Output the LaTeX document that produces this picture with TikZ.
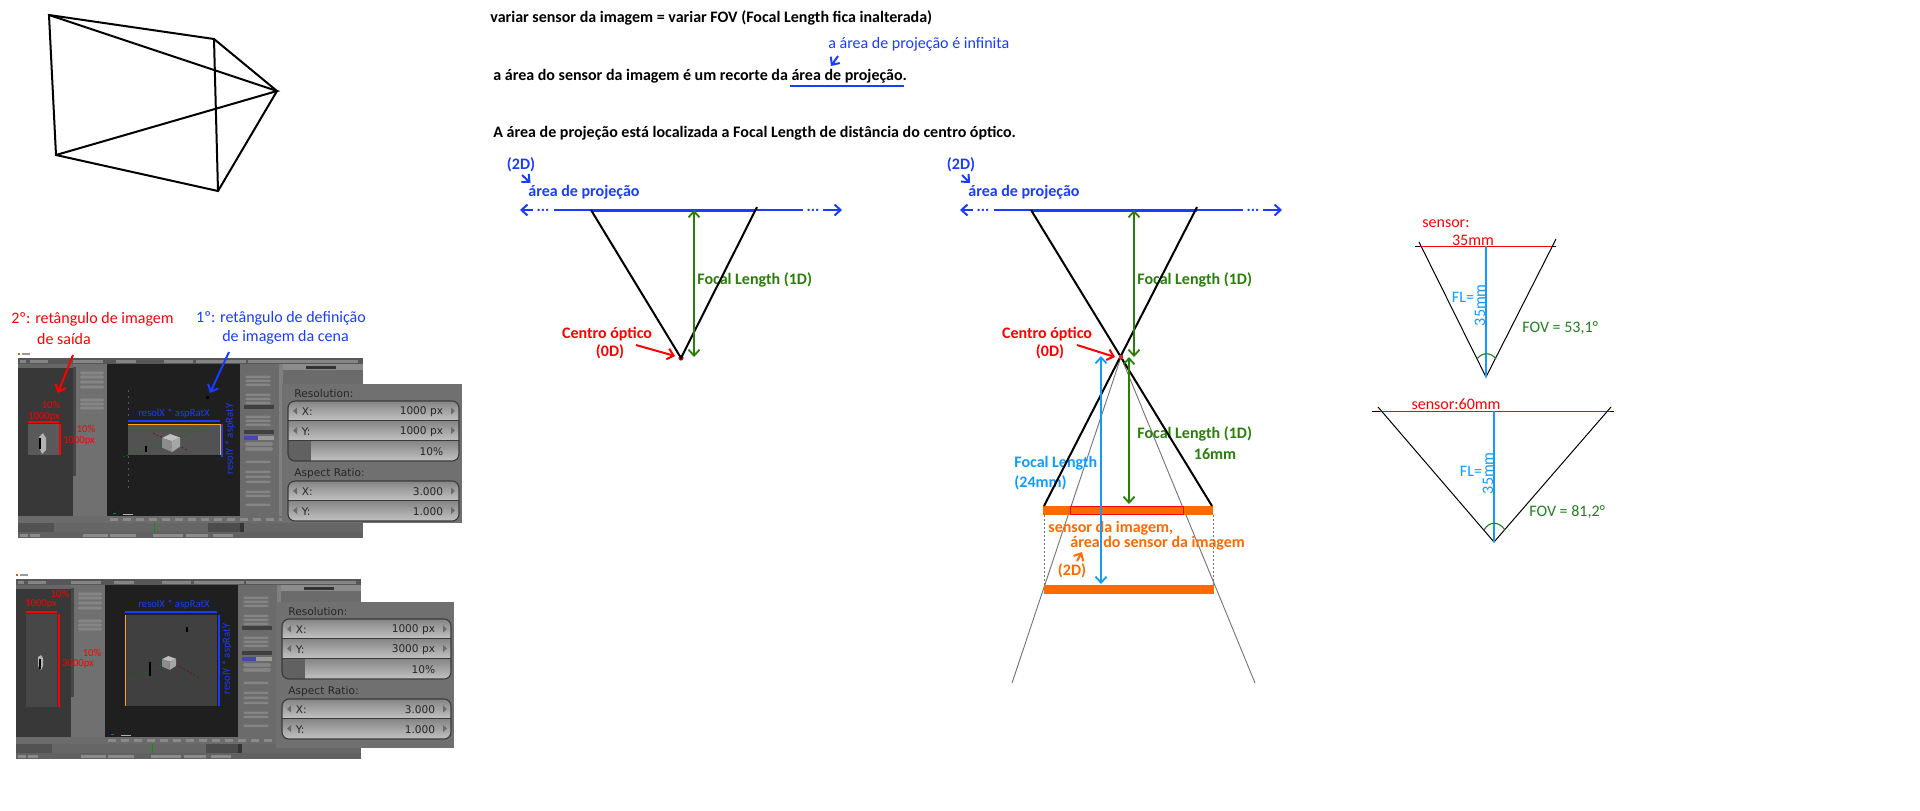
\documentclass[tikz,border=0pt]{standalone}
\usepackage{fontspec}
\setmainfont{Carlito}
\newfontfamily\uifont{DejaVu Sans}
\usetikzlibrary{arrows.meta}
\definecolor{pblue}{HTML}{1A3CFF}
\definecolor{lblue}{HTML}{0F9BFF}
\definecolor{pgreen}{HTML}{2A7F0A}
\definecolor{fgreen}{HTML}{1F7F1F}
\definecolor{porange}{HTML}{FF6A00}
\definecolor{uiedge}{HTML}{3A3A3A}
\definecolor{uipanelbg}{HTML}{707070}
\tikzset{
  lbl/.style={inner sep=0pt,yshift=-0.6pt,font=\fontsize{8}{9.6}\selectfont},
  blbl/.style={inner sep=0pt,yshift=-0.6pt,font=\fontsize{8}{9.6}\selectfont\bfseries},
  slbl/.style={inner sep=0pt,font=\fontsize{5.3}{6.4}\selectfont},
  uilbl/.style={inner sep=0pt,yshift=-0.4pt,text=black!85,font=\fontsize{5.3}{6.2}\uifont},
  arr/.style={-{Straight Barb[length=3pt,width=5.5pt]},line width=1pt},
  darr/.style={{Straight Barb[length=3pt,width=5.5pt]}-{Straight Barb[length=3pt,width=5.5pt]},line width=0.9pt},
  heavy/.style={line width=1pt,black},
  fine/.style={line width=0.5pt,black},
  uibtn/.style={fill=#1,draw=black!60,line width=0.15pt,rounded corners=0.6pt},
  uibtn/.default={black!48}
}
\newcommand{\blenderui}{%
  \fill[black!58] (0,0) rectangle (345,180);
  \fill[black!66] (0,0) rectangle (345,6);
  \fill[orange!80!black] (0,-5) rectangle (2,-3);
  \fill[black!40] (4,-5) rectangle (12,-3);
  \foreach \a/\b in {2/8,12/30,55/85,98/118,146/175,178/228,230/340}{\fill[black!48] (\a,1.5) rectangle (\b,4.5);}
  \fill[black!78] (0,6) rectangle (55,158);
  \fill[black!60] (0,6) rectangle (55,9.5);
  \fill[black!56] (55,6) rectangle (89,158);
  \fill[black!72] (55,9) rectangle (58,118);
  \foreach \y in {15,19,24,29,42,46,50}{\node[uibtn,minimum width=12.5pt,minimum height=1.8pt,inner sep=0pt,anchor=center] at (74,\y) {};}
  \fill[black!88] (89,6) rectangle (222,158);
  \foreach \y in {19,23,27,37,41,45,59,63,67,104,114,119,124,134,138,147}{\node[uibtn,minimum width=13pt,minimum height=1.6pt,inner sep=0pt] at (240,\y) {};}
  \fill[black!75] (226,47) rectangle (256,51);
  \fill[black!75] (226,72) rectangle (256,76);
  \fill[blue!45!gray] (226,78) rectangle (240,82);
  \fill[black!40] (240,78) rectangle (256,82);
  \node[uibtn,minimum width=14pt,minimum height=2pt,inner sep=0pt] at (241,86) {};
  \node[uibtn,minimum width=14pt,minimum height=2pt,inner sep=0pt] at (241,91) {};
  \fill[black!50] (261,6) rectangle (265,158);
  \fill[black!45] (265,6) rectangle (345,12);
  \fill[black!80] (288,8) rectangle (318,11);
  \fill[black!58] (89,158) rectangle (265,165);
  \foreach \a/\b in {0,1,...,13}{\fill[black!46] (92+13*\a,160) rectangle (100+13*\a,163);}
  \fill[black!60] (0,165) rectangle (345,174);
  \fill[black!68] (0,165) rectangle (36,174);
  \fill[black!70] (190,165) rectangle (222,174);
  \fill[black!80] (222,165) rectangle (226,174);
  \fill[green!60!black] (136,165) rectangle (137,174);
  \fill[black!62] (0,174) rectangle (345,180);
  \foreach \a/\b in {2/10,12/22,65/90,92/118,135/165,168/190,195/215}{\fill[black!45] (\a,175.5) rectangle (\b,178.5);}
  \fill[blue!70!black] (94,153) rectangle (95,155);
  \fill[green!60!black] (95,155) rectangle (98,156);
  \fill[white!70!black] (105,156) rectangle (115,157);
}
\newcommand{\uirow}[2]{\shade[top color=black!48,bottom color=black!24] (0,#1) rectangle (2000,#2);}
\newcommand{\uipanel}[8]{%
  \fill[uipanelbg] (#1,#2) rectangle (#3,#4);
  \node[uilbl,anchor=west] at (#1+12,#2+8.5) {Resolution:};
  \node[uilbl,anchor=west] at (#1+12,#2+88.5) {Aspect Ratio:};
  \begin{scope}
    \clip[rounded corners=3.5pt] (#1+6,#2+17) rectangle (#3-3,#2+77);
    \uirow{#2+17}{#2+36.5}
    \uirow{#2+36.5}{#2+56.5}
    \uirow{#2+56.5}{#2+77}
    \fill[black!62] (#1+6,#2+56.5) rectangle (#1+29,#2+77);
  \end{scope}
  \draw[uiedge,line width=0.55pt,rounded corners=3.5pt] (#1+6,#2+17) rectangle (#3-3,#2+77);
  \draw[uiedge,line width=0.55pt] (#1+6,#2+36.5) -- (#3-3,#2+36.5);
  \draw[uiedge,line width=0.55pt] (#1+6,#2+56.5) -- (#3-3,#2+56.5);
  \begin{scope}
    \clip[rounded corners=3.5pt] (#1+6,#2+97) rectangle (#3-3,#2+137);
    \uirow{#2+97}{#2+116.5}
    \uirow{#2+116.5}{#2+137}
  \end{scope}
  \draw[uiedge,line width=0.55pt,rounded corners=3.5pt] (#1+6,#2+97) rectangle (#3-3,#2+137);
  \draw[uiedge,line width=0.55pt] (#1+6,#2+116.5) -- (#3-3,#2+116.5);
  \node[uilbl,anchor=west] at (#1+19.5,#2+27) {X:};
  \node[uilbl,anchor=west] at (#1+19.5,#2+46.5) {Y:};
  \node[uilbl,anchor=west] at (#1+19.5,#2+107) {X:};
  \node[uilbl,anchor=west] at (#1+19.5,#2+126.5) {Y:};
  \node[uilbl,anchor=east] at (#3-18.5,#2+27) {#5};
  \node[uilbl,anchor=east] at (#3-18.5,#2+46.5) {#6};
  \node[uilbl,anchor=east] at (#3-18.5,#2+66.5) {10\%};
  \node[uilbl,anchor=east] at (#3-18.5,#2+107) {#7};
  \node[uilbl,anchor=east] at (#3-18.5,#2+126.5) {#8};
  \foreach \yy in {27,46.5,107,126.5}{
    \fill[black!58] (#1+15,#2+\yy-3.5) -- (#1+15,#2+\yy+3.5) -- (#1+11,#2+\yy) -- cycle;
    \fill[black!58] (#3-11,#2+\yy-3.5) -- (#3-11,#2+\yy+3.5) -- (#3-7,#2+\yy) -- cycle;
  }
}
\newcommand{\uicube}[3]{% x y half size
  \fill[black!25] (#1-#3,#2-#3*0.55) -- (#1-#3*0.1,#2-#3) -- (#1+#3,#2-#3*0.6) -- (#1+#3*0.1,#2-#3*0.2) -- cycle;
  \fill[black!45!white] (#1-#3,#2-#3*0.55) -- (#1+#3*0.1,#2-#3*0.2) -- (#1+#3*0.1,#2+#3) -- (#1-#3,#2+#3*0.5) -- cycle;
  \fill[black!35] (#1+#3*0.1,#2-#3*0.2) -- (#1+#3,#2-#3*0.6) -- (#1+#3,#2+#3*0.4) -- (#1+#3*0.1,#2+#3) -- cycle;
}
\begin{document}
\begin{tikzpicture}[x=0.5pt,y=-0.5pt]
\fill[white] (0,0) rectangle (1920,810);
\useasboundingbox (0,0) rectangle (1920,810);

% ---- wire frustum
\coordinate (fa) at (49,15);
\coordinate (fb) at (214,39);
\coordinate (fc) at (277,91);
\coordinate (fd) at (218,191);
\coordinate (fe) at (56,155);
\draw[heavy] (fa) -- (fb) -- (fc) -- (fd) -- (fe) -- cycle;
\draw[heavy] (fa) -- (fc) -- (fe);
\draw[heavy] (fb) -- (fd);

% ---- first screenshot
\begin{scope}[shift={(18,358)}]\blenderui\end{scope}
\draw[black!65,line width=0.25pt,dash pattern=on 1pt off 2pt] (128,390) -- (128,490);
\fill[black!68] (128,424) rectangle (220,455);
\draw[black!90,line width=0.4pt,dash pattern=on 1pt off 1pt] (128,455) -- (220,455);
\draw[green!50!black,line width=0.25pt,dash pattern=on 1pt off 1pt] (123,457) -- (193,432);
\draw[red!50!black,line width=0.25pt,dash pattern=on 1pt off 1pt] (153,433) -- (187,450);
\uicube{171}{443}{9}
\fill[black] (145,446) rectangle (147,452);
\fill[black] (206,396) rectangle (209,399);
\draw[orange!70!yellow,line width=0.5pt] (128,424) -- (220,424) -- (220,455);
\fill[black!65] (28,424) rectangle (59,455);
\fill[black!30] (39,437) -- (43,433) -- (46,438) -- (46,450) -- (42,454) -- (39,447) -- cycle;
\fill[black] (39,438) rectangle (41,449);
\uipanel{282}{384}{462}{523}{1000 px}{1000 px}{3.000}{1.000}

\node[lbl,text=red] (s1a) at (92.5,318) {2º: retângulo de imagem};
\node[lbl,text=red] (s1b) at (64,338) {de saída};
\node[lbl,text=pblue] (s1c) at (281,317) {1º: retângulo de definição};
\node[lbl,text=pblue] (s1d) at (285.5,336) {de imagem da cena};
\coordinate (s1r0) at (73,355); \coordinate (s1r1) at (58,393);
\coordinate (s1b0) at (229,352); \coordinate (s1b1) at (210,393);
\draw[arr,red] (s1r0) -- (s1r1);
\draw[arr,pblue] (s1b0) -- (s1b1);
\node[slbl,text=red] (s1e) at (51,405) {10\%};
\node[slbl,text=red] (s1f) at (44,417) {1000px};
\node[slbl,text=red] (s1g) at (86,429) {10\%};
\node[slbl,text=red] (s1h) at (79,441) {1000px};
\draw[red,line width=0.7pt] (28,422) -- (59,422);
\draw[red,line width=0.7pt] (60,424) -- (60,455);
\node[slbl,text=pblue] (s1i) at (174,414) {resolX * aspRatX};
\node[slbl,text=pblue,rotate=90] (s1j) at (230,439) {resolY * aspRatY};
\draw[pblue,line width=0.7pt] (128,421) -- (220,421);
\draw[pblue,line width=0.7pt] (222,424) -- (222,457);

% ---- second screenshot
\begin{scope}[shift={(16,579)}]\blenderui\end{scope}
\fill[black!75] (125,615) rectangle (217,706);
\draw[black!90,line width=0.4pt,dash pattern=on 1pt off 1pt] (125,706) -- (217,706);
\draw[green!50!black,line width=0.25pt,dash pattern=on 1pt off 1pt] (127,681) -- (177,658);
\draw[red!50!black,line width=0.25pt,dash pattern=on 1pt off 1pt] (176,665) -- (200,678);
\uicube{169}{663}{7}
\fill[black] (149,662) rectangle (151,676);
\fill[black] (186,627) rectangle (188,632);
\draw[orange!70!yellow,line width=0.5pt] (125,615) -- (125,706);
\fill[black!72] (26,614) rectangle (57,707);
\fill[black!30] (38,657) -- (41,655) -- (43,658) -- (43,666) -- (41,670) -- (38,666) -- cycle;
\fill[black] (39,659) rectangle (40.5,669);
\uipanel{276}{602}{454}{748}{1000 px}{3000 px}{3.000}{1.000}

\node[slbl,text=red] (s2e) at (60,594) {10\%};
\node[slbl,text=red] (s2f) at (41,604) {1000px};
\node[slbl,text=red] (s2g) at (92,653) {10\%};
\node[slbl,text=red] (s2h) at (78,664) {3000px};
\draw[red,line width=0.7pt] (26,612) -- (57,612);
\draw[red,line width=0.7pt] (59,614) -- (59,707);
\node[slbl,text=pblue] (s2i) at (174,605) {resolX * aspRatX};
\node[slbl,text=pblue,rotate=90] (s2j) at (227,659) {resolY * aspRatY};
\draw[pblue,line width=0.7pt] (125,612) -- (217,612);
\draw[pblue,line width=0.7pt] (219,615) -- (219,706);

% ---- headings
\node[blbl,anchor=west] (t1) at (490,17) {variar sensor da imagem = variar FOV (Focal Length fica inalterada)};
\node[lbl,anchor=west,text=pblue] (t2) at (828,43) {a área de projeção é infinita};
\coordinate (t2a) at (838,56); \coordinate (t2b) at (831,66);
\draw[arr,pblue] (t2a) -- (t2b);
\node[blbl,anchor=west] (t3) at (493,75) {a área do sensor da imagem é um recorte da área de projeção.};
\coordinate (u0) at (790,86); \coordinate (u1) at (904,86);
\draw[pblue,line width=1pt] (u0) -- (u1);
\node[blbl,anchor=west] (t4) at (493,132) {A área de projeção está localizada a Focal Length de distância do centro óptico.};

% ---- left projection diagram
\node[blbl,text=pblue] (a2d) at (521,164) {(2D)};
\coordinate (a2a) at (522,175); \coordinate (a2b) at (530.5,183);
\draw[arr,pblue] (a2a) -- (a2b);
\node[blbl,text=pblue,anchor=west] (aar) at (528,191) {área de projeção};
\node[blbl,text=pblue] (ad1) at (543,209) {...};
\node[blbl,text=pblue] (ad2) at (813,209) {...};
\coordinate (al0) at (533,210); \coordinate (al1) at (520,210);
\coordinate (al2) at (554,210); \coordinate (al3) at (803,210);
\coordinate (al4) at (823,210); \coordinate (al5) at (842,210);
\coordinate (ap) at (591,210); \coordinate (aq) at (756,210);
\coordinate (ar) at (757,207);
\coordinate (afu) at (694,210); \coordinate (afd) at (694,357);
\node[blbl,text=pgreen,anchor=west] (afl) at (697,279) {Focal Length (1D)};
\node[blbl,text=red] (acc) at (607,333) {Centro óptico};
\node[blbl,text=red] (acd) at (610,351) {(0D)};
\draw[arr,pblue] (al0) -- (al1);
\draw[pblue,line width=0.7pt] (al2) -- (al3);
\draw[arr,pblue] (al4) -- (al5);
\draw[pblue,line width=1.5pt] (ap) -- (aq);
\node[circle,fill=red,inner sep=0pt,minimum size=2.6pt] (ac) at (681,358) {};
\draw[heavy] (ap) -- (ac.center) -- (ar);
\draw[darr,pgreen] (afu) -- (afd);
\coordinate (ara) at (636,345); \coordinate (arb) at (675,356);
\draw[arr,red] (ara) -- (arb);

% ---- middle diagram
\node[blbl,text=pblue] (b2d) at (961,164) {(2D)};
\coordinate (b2a) at (962,175); \coordinate (b2b) at (970,183);
\draw[arr,pblue] (b2a) -- (b2b);
\node[blbl,text=pblue,anchor=west] (bar) at (968,191) {área de projeção};
\node[blbl,text=pblue] (bd1) at (983,209) {...};
\node[blbl,text=pblue] (bd2) at (1253,209) {...};
\coordinate (bl0) at (973,210); \coordinate (bl1) at (960,210);
\coordinate (bl2) at (994,210); \coordinate (bl3) at (1243,210);
\coordinate (bl4) at (1263,210); \coordinate (bl5) at (1282,210);
\coordinate (bp) at (1031,210); \coordinate (bq) at (1197,210);
\coordinate (br) at (1197,207);
\coordinate (bs) at (1212,506); \coordinate (bt) at (1044,506);
\coordinate (bo) at (1121,357);
\coordinate (bg0) at (1012,683); \coordinate (bg1) at (1255,683);
\draw[black!55,line width=0.45pt] (bg0) -- (bo) -- (bg1);
\node[blbl,text=pgreen,anchor=west] (bfl) at (1137,279) {Focal Length (1D)};
\node[blbl,text=pgreen,anchor=west] (bfm) at (1137,433) {Focal Length (1D)};
\node[blbl,text=pgreen] (b16) at (1215,453) {16mm};
\node[blbl,text=lblue,anchor=west] (bfn) at (1014,462) {Focal Length};
\node[blbl,text=lblue,anchor=west] (bfo) at (1014,482) {(24mm)};
\node[blbl,text=red] (bcc) at (1047,333) {Centro óptico};
\node[blbl,text=red] (bcd) at (1050,351) {(0D)};
\node[blbl,text=porange,anchor=west] (bsa) at (1048,527) {sensor da imagem,};
\node[blbl,text=porange,anchor=west] (bsb) at (1070,542) {área do sensor da imagem};
\node[blbl,text=porange] (bsc) at (1072,570) {(2D)};
\coordinate (bsd) at (1077,561); \coordinate (bse) at (1082,552);
\draw[arr,porange] (bsd) -- (bse);
\draw[arr,pblue] (bl0) -- (bl1);
\draw[pblue,line width=0.7pt] (bl2) -- (bl3);
\draw[arr,pblue] (bl4) -- (bl5);
\draw[pblue,line width=1.5pt] (bp) -- (bq);
\fill[porange] (1043,506) rectangle (1213,515);
\fill[porange] (1044,585) rectangle (1214,594);
\draw[red,line width=0.5pt] (1070,506.5) rectangle (1183,514.5);
\coordinate (bda) at (1044,515); \coordinate (bdb) at (1044,585);
\coordinate (bdc) at (1213,515); \coordinate (bdd) at (1213,585);
\draw[black!55,line width=0.35pt,dash pattern=on 1pt off 1pt] (bda) -- (bdb);
\draw[black!55,line width=0.35pt,dash pattern=on 1pt off 1pt] (bdc) -- (bdd);
\draw[heavy] (bp) -- (bs);
\draw[heavy] (br) -- (bt);
\fill[red!70!gray] (1119,355) rectangle (1123,359);
\coordinate (bfu) at (1134,210); \coordinate (bfd) at (1134,357);
\coordinate (bgu) at (1129,357); \coordinate (bgd) at (1129,504);
\coordinate (bbu) at (1101,356); \coordinate (bbd) at (1101,584);
\draw[darr,pgreen] (bfu) -- (bfd);
\draw[darr,pgreen] (bgu) -- (bgd);
\draw[darr,lblue] (bbu) -- (bbd);
\coordinate (bra) at (1077,345); \coordinate (brb) at (1115,357);
\draw[arr,red] (bra) -- (brb);

% ---- right triangles, top
\node[lbl,text=red] (ra) at (1446,222) {sensor:};
\node[lbl,text=red] (rb) at (1473,239) {35mm};
\coordinate (rh0) at (1415,246); \coordinate (rh1) at (1556,246);
\coordinate (rr0) at (1420,246); \coordinate (rr1) at (1552,246);
\coordinate (ra0) at (1486,377); \coordinate (ra1) at (1419,242); \coordinate (ra2) at (1556,239);
\coordinate (rc0) at (1486,246);
\draw[fine] (rh0) -- (rh1);
\draw[red,line width=0.5pt] (rr0) -- (rr1);
\draw[fine] (ra1) -- (ra0) -- (ra2);
\draw[lblue,line width=0.55pt] (rc0) -- (ra0);
\node[lbl,text=lblue] (rfl) at (1463,296) {FL=};
\node[lbl,text=lblue,rotate=90] (rfm) at (1480,304) {35mm};
\node[lbl,text=fgreen,anchor=west] (rfov) at (1522,327) {FOV = 53,1°};
\coordinate (rg0) at (1477,359); \coordinate (rg1) at (1496,359);
\draw[fgreen,line width=0.55pt] (rg0) .. controls (1482,352) and (1491,352) .. (rg1);

% ---- right triangles, bottom
\node[lbl,text=red] (sa) at (1456,403) {sensor:60mm};
\coordinate (sh0) at (1372,411); \coordinate (sh1) at (1614,411);
\coordinate (sr0) at (1380,411); \coordinate (sr1) at (1610,411);
\coordinate (sa0) at (1494,542); \coordinate (sa1) at (1378,407); \coordinate (sa2) at (1611,407);
\coordinate (sc0) at (1494,411);
\draw[fine] (sh0) -- (sh1);
\draw[red,line width=0.5pt] (sr0) -- (sr1);
\draw[fine] (sa1) -- (sa0) -- (sa2);
\draw[lblue,line width=0.55pt] (sc0) -- (sa0);
\node[lbl,text=lblue] (sfl) at (1471,470) {FL=};
\node[lbl,text=lblue,rotate=90] (sfm) at (1488,472) {35mm};
\node[lbl,text=fgreen,anchor=west] (sfov) at (1529,511) {FOV = 81,2°};
\coordinate (sg0) at (1484,530); \coordinate (sg1) at (1505,530);
\draw[fgreen,line width=0.55pt] (sg0) .. controls (1489,521) and (1499,521) .. (sg1);
\end{tikzpicture}
\end{document}
